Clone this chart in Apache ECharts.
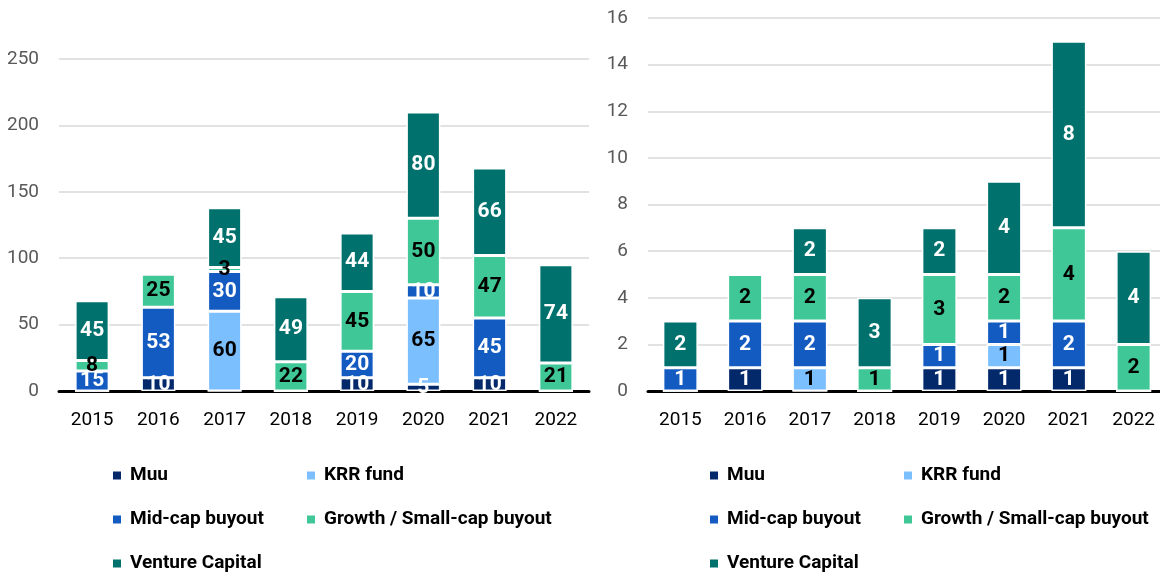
<!DOCTYPE html>
<html>
<head>
<meta charset="utf-8">
<script src="https://cdn.jsdelivr.net/npm/echarts@6/dist/echarts.min.js"></script>
<style>
  html, body { margin: 0; padding: 0; background: #fff; }
  #main { width: 1160px; height: 575px; }
</style>
</head>
<body>
<div id="main"></div>
<script>
// years on both charts
var years = ["2015", "2016", "2017", "2018", "2019", "2020", "2021", "2022"];
var seriesNames = ["Muu", "KRR fund", "Mid-cap buyout", "Growth / Small-cap buyout", "Venture Capital"];
var colors = ["#03296b", "#7cbfff", "#135bc1", "#3fc797", "#01716d"];
var labelColors = ["#fff", "#000", "#fff", "#000", "#fff"];

// left chart values
var leftMuu = [0, 10, 0, 0, 10, 5, 10, 0];
var leftKrr = [0, 0, 60, 0, 0, 65, 0, 0];
var leftMid = [15, 53, 30, 0, 20, 10, 45, 0];
var leftGrowth = [8, 25, 3, 22, 45, 50, 47, 21];
var leftVc = [45, 0, 45, 49, 44, 80, 66, 74];

// right chart values
var rightMuu = [0, 1, 0, 0, 1, 1, 1, 0];
var rightKrr = [0, 0, 1, 0, 0, 1, 0, 0];
var rightMid = [1, 2, 2, 0, 1, 1, 2, 0];
var rightGrowth = [0, 2, 2, 1, 3, 2, 4, 2];
var rightVc = [2, 0, 2, 3, 2, 4, 8, 4];

var font = "Roboto, 'Liberation Sans Narrow', sans-serif";

var myChart = echarts.init(document.getElementById("main"));

function makeSeries(idx, values, axisIdx, stack, bw) {
  return {
    name: seriesNames[idx],
    type: "bar",
    stack: stack,
    xAxisIndex: axisIdx,
    yAxisIndex: axisIdx,
    barWidth: bw,
    data: values,
    itemStyle: {
      color: colors[idx],
      borderColor: "#fff",
      borderWidth: 1.5
    },
    label: {
      show: true,
      position: "inside",
      color: labelColors[idx],
      fontFamily: font,
      fontWeight: "bold",
      fontSize: 21,
      formatter: function (p) {
        return p.value > 0 ? p.value : "";
      }
    }
  };
}

var leftData = [leftMuu, leftKrr, leftMid, leftGrowth, leftVc];
var rightData = [rightMuu, rightKrr, rightMid, rightGrowth, rightVc];
var series = [];
leftData.forEach(function (d, i) { series.push(makeSeries(i, d, 0, "left", 34)); });
rightData.forEach(function (d, i) { series.push(makeSeries(i, d, 1, "right", 35)); });

// legend positions (one legend per item so it can sit in two columns)
var legendPos = [[111, 466], [305, 466], [111, 510], [305, 510], [111, 554]];
var legends = [];
[0, 597].forEach(function (off) {
  seriesNames.forEach(function (n, i) {
    legends.push({
      data: [n],
      left: legendPos[i][0] + off,
      top: legendPos[i][1],
      padding: 0,
      icon: "rect",
      itemWidth: 10,
      itemHeight: 10,
      itemGap: 8,
      selectedMode: false,
      textStyle: {
        fontFamily: font,
        fontWeight: "bold",
        fontSize: 19,
        color: "#000",
        padding: [0, 0, 0, 3]
      }
    });
  });
});

function yAxisOpt(gi, max, interval) {
  return {
    type: "value",
    gridIndex: gi,
    min: 0,
    max: max,
    interval: interval,
    axisLine: { show: false },
    axisTick: { show: false },
    axisLabel: { color: "#595959", fontFamily: font, fontSize: 19, margin: 20 },
    splitLine: { lineStyle: { color: "#d9d9d9", width: 1.5 } }
  };
}

function xAxisOpt(gi) {
  return {
    type: "category",
    gridIndex: gi,
    data: years,
    axisLine: { lineStyle: { color: "#000", width: 3 } },
    axisTick: { show: false },
    axisLabel: { color: "#000", fontFamily: font, fontSize: 19, margin: 20 }
  };
}

var option = {
  animation: false,
  legend: legends,
  grid: [
    { left: 59, top: 59, width: 530, height: 332, outerBoundsMode: "none" },
    { left: 648, top: 18, width: 518, height: 373, outerBoundsMode: "none" }
  ],
  xAxis: [xAxisOpt(0), xAxisOpt(1)],
  yAxis: [yAxisOpt(0, 250, 50), yAxisOpt(1, 16, 2)],
  series: series
};
myChart.setOption(option);
</script>
</body>
</html>
